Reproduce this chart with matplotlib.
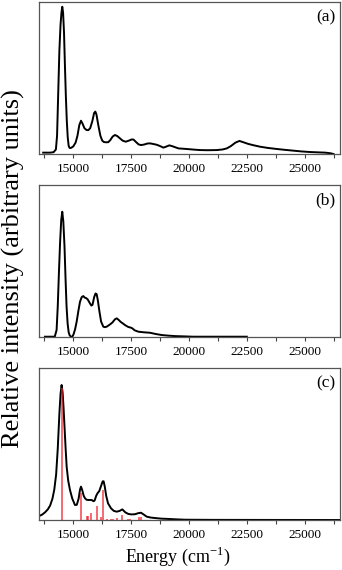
import numpy as np
import matplotlib
matplotlib.use('Agg')
import matplotlib.pyplot as plt
from matplotlib.ticker import MultipleLocator

plt.rcParams['font.family'] = ['Liberation Serif', 'DejaVu Serif']
plt.rcParams['mathtext.fontset'] = 'custom'
plt.rcParams['mathtext.rm'] = 'Liberation Serif'

# (a) measured spectrum
energy_a = [13700, 14000, 14150, 14250, 14300, 14350, 14400, 14450, 14490, 14525,
            14560, 14600, 14640, 14680, 14720, 14760, 14800, 14840, 14900, 15000,
            15100, 15180, 15260, 15333, 15400, 15480, 15570, 15650, 15730, 15820,
            15900, 15952, 16000, 16080, 16170, 16250, 16320, 16420, 16512, 16600,
            16700, 16800, 16900, 17000, 17130, 17264, 17400, 17520, 17600, 17700,
            17820, 17925, 18050, 18200, 18313, 18450, 18600, 18750, 18888, 19000,
            19147, 19300, 19536, 19899, 20200, 20474, 20800, 21195, 21450, 21627,
            21800, 22000, 22171, 22350, 22560, 22800, 23065, 23400, 23787, 24100,
            24504, 24850, 25226, 25550, 25874, 26100, 26232]
inten_a = [0.009, 0.009, 0.012, 0.03, 0.12, 0.40, 0.68, 0.85, 0.93, 0.969,
           0.93, 0.80, 0.58, 0.38, 0.22, 0.11, 0.055, 0.04, 0.04, 0.05,
           0.075, 0.12, 0.19, 0.219, 0.20, 0.17, 0.158, 0.157, 0.17, 0.215,
           0.27, 0.279, 0.26, 0.19, 0.12, 0.088, 0.079, 0.077, 0.078, 0.092,
           0.115, 0.125, 0.118, 0.105, 0.088, 0.081, 0.088, 0.096, 0.095, 0.08,
           0.063, 0.059, 0.062, 0.069, 0.07, 0.066, 0.061, 0.052, 0.042, 0.048,
           0.057, 0.05, 0.037, 0.033, 0.029, 0.026, 0.025, 0.026, 0.03, 0.037,
           0.052, 0.075, 0.086, 0.077, 0.066, 0.057, 0.048, 0.04, 0.033, 0.028,
           0.022, 0.017, 0.013, 0.011, 0.009, 0.005, 0.0]

# (b) calculated spectrum
energy_b = [13777, 14200, 14280, 14330, 14380, 14430, 14480, 14525, 14570, 14620,
            14669, 14710, 14755, 14800, 14841, 14901, 14960, 15010, 15080, 15147,
            15220, 15290, 15360, 15432, 15490, 15550, 15622, 15700, 15780, 15830,
            15900, 15960, 16010, 16060, 16125, 16200, 16296, 16360, 16442, 16560,
            16685, 16800, 16875, 16950, 17050, 17117, 17250, 17376, 17480, 17549,
            17650, 17808, 18050, 18313, 18550, 18818, 19100, 19393, 19800, 20180,
            22490]
inten_b = [0.0, 0.0, 0.044, 0.2, 0.42, 0.62, 0.77, 0.824, 0.76, 0.6,
           0.37, 0.2, 0.088, 0.03, 0.01, 0.0, 0.0, 0.015, 0.05, 0.10,
           0.17, 0.23, 0.26, 0.268, 0.258, 0.255, 0.246, 0.225, 0.205, 0.21,
           0.26, 0.285, 0.28, 0.24, 0.17, 0.10, 0.066, 0.063, 0.066, 0.078,
           0.093, 0.115, 0.121, 0.112, 0.097, 0.09, 0.075, 0.064, 0.06, 0.055,
           0.042, 0.033, 0.029, 0.026, 0.018, 0.011, 0.007, 0.004, 0.002, 0.0,
           0.0]

# (c) broadened stick spectrum
energy_c = [13520, 13650, 13777, 13900, 14000, 14100, 14180, 14260, 14330, 14400,
            14450, 14496, 14540, 14580, 14620, 14670, 14715, 14780, 14857, 14960,
            15073, 15150, 15230, 15290, 15333, 15380, 15450, 15506, 15580, 15650,
            15794, 15870, 15920, 15990, 16053, 16120, 16200, 16270, 16310, 16360,
            16420, 16500, 16629, 16750, 16875, 17000, 17117, 17250, 17376, 17500,
            17665, 17800, 17925, 18050, 18171, 18350, 18530, 18800, 19104, 19500,
            19825, 21000, 26500]
inten_c = [0.026, 0.035, 0.05, 0.07, 0.095, 0.14, 0.2, 0.3, 0.47, 0.70,
           0.83, 0.89, 0.84, 0.74, 0.62, 0.47, 0.35, 0.26, 0.198, 0.14,
           0.099, 0.10, 0.14, 0.20, 0.22, 0.20, 0.16, 0.143, 0.133, 0.132,
           0.132, 0.124, 0.128, 0.16, 0.178, 0.19, 0.225, 0.255, 0.255, 0.22,
           0.16, 0.11, 0.077, 0.06, 0.055, 0.06, 0.07, 0.05, 0.04, 0.037,
           0.038, 0.045, 0.048, 0.035, 0.022, 0.016, 0.013, 0.009, 0.007, 0.004,
           0.002, 0.001, 0.0]

stick_e = [14496, 15333, 15578, 15650, 15750, 16037, 16197, 16296, 16442, 16629,
           16720, 16904, 17117, 17360, 17430, 17838, 17925]
stick_i = [0.87, 0.176, 0.026, 0.029, 0.044, 0.092, 0.018, 0.198, 0.006, 0.006,
           0.006, 0.015, 0.033, 0.007, 0.007, 0.018, 0.022]

panels = ['(a)', '(b)', '(c)']
tick_vals = [15000, 17500, 20000, 22500, 25000]

fig = plt.figure(figsize=(3.42, 5.70), dpi=100)
rects = [[0.114, 0.7298, 0.880, 0.2667],
         [0.114, 0.4093, 0.880, 0.2661],
         [0.114, 0.0877, 0.880, 0.2662]]
axes = [fig.add_axes(r) for r in rects]

kw = dict(color='black', lw=1.4, solid_joinstyle='round')
axes[0].plot(energy_a, inten_a, **kw)
axes[1].plot(energy_b, inten_b, **kw)
axes[2].plot(energy_c, inten_c, **kw)
axes[2].vlines(stick_e, 0, stick_i, color='#f0202c', lw=1.1, alpha=0.85)

for ax, lab in zip(axes, panels):
    ax.set_xlim(13520, 26510)
    ax.set_ylim(0, 1.0)
    ax.set_yticks([])
    ax.xaxis.set_minor_locator(MultipleLocator(1250))
    ax.set_xticks(tick_vals)
    ax.set_xticklabels([str(t) for t in tick_vals])
    ax.tick_params(axis='x', which='both', direction='out', length=3,
                   width=0.8, color='#444444', pad=3.5, labelsize=9.5)
    for sp in ax.spines.values():
        sp.set_color('#555555')
        sp.set_linewidth(0.9)
    ax.text(0.985, 0.95, lab, transform=ax.transAxes, ha='right', va='top',
            fontsize=12.5)

fig.text(0.038, 0.528, 'Relative intensity (arbitrary units)', rotation=90,
         ha='center', va='center', fontsize=19)
fig.text(0.52, 0.004, 'Energy (cm$^{-1}$)', ha='center', va='bottom',
         fontsize=13)

fig.savefig('out.png', dpi=100)
